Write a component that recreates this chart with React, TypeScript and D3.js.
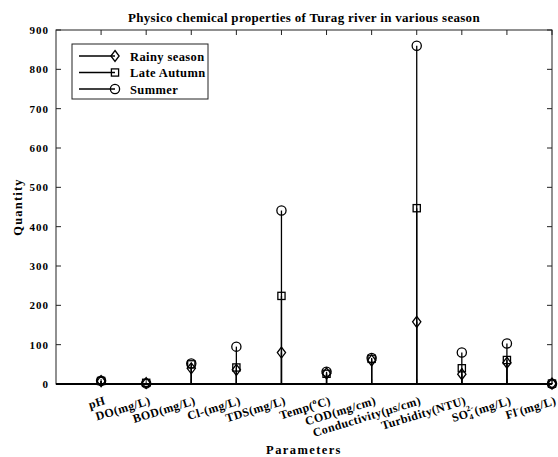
import React from "react";
import * as d3 from "d3";

// Water-quality parameters of the Turag river (one stem per season)
const parameters = [
  "pH", "DO", "BOD", "Cl", "TDS", "Temp", "COD", "Conductivity", "Turbidity", "SO4", "Fl",
];
const rainySeason = [7.2, 2.5, 40, 36, 80, 27, 60, 158, 25, 54, 1];
const lateAutumn = [7.6, 3, 50, 42, 224, 26, 64, 447, 40, 61, 1];
const summer = [8.2, 1.5, 52, 95, 441, 31, 66, 860, 80, 103, 0.5];
const yTicks = [0, 100, 200, 300, 400, 500, 600, 700, 800, 900];

const W = 558;
const H = 457;
const plot = { left: 56, right: 552, top: 30, bottom: 384 };
const FONT = "'Liberation Serif', 'Times New Roman', serif";

type Marker = "diamond" | "square" | "circle";
const seriesList: { name: string; values: number[]; marker: Marker }[] = [
  { name: "Rainy season", values: rainySeason, marker: "diamond" },
  { name: "Late Autumn", values: lateAutumn, marker: "square" },
  { name: "Summer", values: summer, marker: "circle" },
];

function MarkerShape({ kind, x, y }: { kind: Marker; x: number; y: number }) {
  const common = { fill: "none", stroke: "#000", strokeWidth: 1.3 };
  if (kind === "diamond") {
    const s = 5.5;
    return <path d={`M${x},${y - s}L${x + s * 0.75},${y}L${x},${y + s}L${x - s * 0.75},${y}Z`} {...common} />;
  }
  if (kind === "square") {
    const s = 3.6;
    return <rect x={x - s} y={y - s} width={2 * s} height={2 * s} {...common} />;
  }
  return <circle cx={x} cy={y} r={4.6} {...common} />;
}

function TickLabel({ name }: { name: string }) {
  switch (name) {
    case "pH":
      return <>pH</>;
    case "DO":
      return <>DO(mg/L)</>;
    case "BOD":
      return <>BOD(mg/L)</>;
    case "Cl":
      return <>Cl-(mg/L)</>;
    case "TDS":
      return <>TDS(mg/L)</>;
    case "Temp":
      return (
        <>
          Temp(<tspan dy={-5} fontSize={8}>o</tspan>
          <tspan dy={5}>C)</tspan>
        </>
      );
    case "COD":
      return <>COD(mg/cm)</>;
    case "Conductivity":
      return <>Conductivity(µs/cm)</>;
    case "Turbidity":
      return <>Turbidity(NTU)</>;
    case "SO4":
      return (
        <>
          SO<tspan dy={3} fontSize={8}>4</tspan>
          <tspan dy={-9} dx={-5} fontSize={8}>2-</tspan>
          <tspan dy={6}>(mg/L)</tspan>
        </>
      );
    case "Fl":
      return (
        <>
          Fl<tspan dy={-5} fontSize={8}>-</tspan>
          <tspan dy={5}>(mg/L)</tspan>
        </>
      );
    default:
      return <>{name}</>;
  }
}

export default function App() {
  const x0 = plot.left;
  const x1 = plot.right;
  const y0 = plot.bottom;
  const y1 = plot.top;

  const x = d3.scaleLinear().domain([0, parameters.length]).range([x0, x1]);
  const y = d3.scaleLinear().domain([0, 900]).range([y0, y1]);
  const tickLen = 5;

  return (
    <svg width={W} height={H} style={{ position: "absolute", left: 0, top: 0, background: "#fff" }} fontFamily={FONT}>
      <rect x={0} y={0} width={W} height={H} fill="#fff" />

      {/* Title */}
      <text x={(x0 + x1) / 2} y={22} textAnchor="middle" fontSize={13} fontWeight="bold" letterSpacing={0.3}>
        Physico chemical properties of Turag river in various season
      </text>

      {/* Axis box */}
      <rect x={x0} y={y1} width={x1 - x0} height={y0 - y1} fill="none" stroke="#222" strokeWidth={1} />

      {/* Y ticks (left and right, inward) */}
      {yTicks.map((t) => (
        <g key={t}>
          <line x1={x0} x2={x0 + tickLen} y1={y(t)} y2={y(t)} stroke="#222" />
          <line x1={x1} x2={x1 - tickLen} y1={y(t)} y2={y(t)} stroke="#222" />
          <text x={x0 - 7} y={y(t) + 4} textAnchor="end" fontSize={11} fontWeight="bold" letterSpacing={1}>
            {t}
          </text>
        </g>
      ))}

      {/* X ticks (bottom and top, inward) */}
      {parameters.map((p, i) => (
        <g key={p}>
          <line x1={x(i + 1)} x2={x(i + 1)} y1={y0} y2={y0 - tickLen} stroke="#222" />
          <line x1={x(i + 1)} x2={x(i + 1)} y1={y1} y2={y1 + tickLen} stroke="#222" />
          <text
            transform={`translate(${x(i + 1) + 5},${y0 + 20}) rotate(-17)`}
            textAnchor="end"
            fontSize={12}
            fontWeight="bold"
            letterSpacing={0.4}
          >
            <TickLabel name={p} />
          </text>
        </g>
      ))}

      {/* Stems */}
      {seriesList.map((s) => (
        <g key={s.name}>
          {s.values.map((v, i) => (
            <line key={i} x1={x(i + 1)} x2={x(i + 1)} y1={y(0)} y2={y(v)} stroke="#000" strokeWidth={1.3} />
          ))}
          {s.values.map((v, i) => (
            <MarkerShape key={`m${i}`} kind={s.marker} x={x(i + 1)} y={y(v)} />
          ))}
        </g>
      ))}

      {/* Baseline */}
      <line x1={x0} x2={x1} y1={y(0)} y2={y(0)} stroke="#000" strokeWidth={2} />

      {/* Axis labels */}
      <text x={(x0 + x1) / 2} y={454} textAnchor="middle" fontSize={12.5} fontWeight="bold" letterSpacing={1.4}>
        Parameters
      </text>
      <text
        transform={`translate(22,${(y0 + y1) / 2}) rotate(-90)`}
        textAnchor="middle"
        fontSize={12.5}
        fontWeight="bold"
        letterSpacing={1.2}
      >
        Quantity
      </text>

      {/* Legend */}
      <g>
        <rect x={72} y={44} width={136} height={55} fill="#fff" stroke="#222" strokeWidth={1} />
        {seriesList.map((s, i) => {
          const ly = 56 + i * 16.5;
          return (
            <g key={s.name}>
              <line x1={79} x2={115} y1={ly} y2={ly} stroke="#000" strokeWidth={1.3} />
              <MarkerShape kind={s.marker} x={115} y={ly} />
              <text x={130} y={ly + 4.5} fontSize={12.5} fontWeight="bold" letterSpacing={0.4}>
                {s.name}
              </text>
            </g>
          );
        })}
      </g>
    </svg>
  );
}
